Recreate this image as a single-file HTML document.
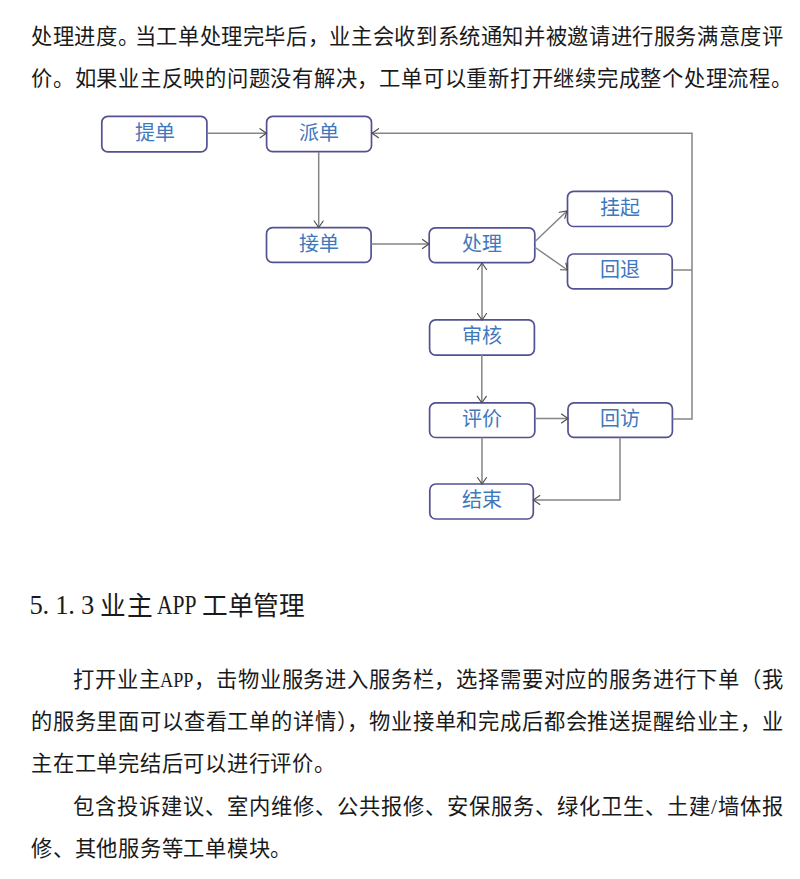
<!DOCTYPE html>
<html lang="zh-CN">
<head>
<meta charset="utf-8">
<style>
html,body{margin:0;padding:0;background:#fff;}
body{width:800px;height:879px;position:relative;overflow:hidden;font-family:"Liberation Serif",serif;color:#1a1a1a;}
.ln{position:absolute;left:31px;width:752px;font-size:21.3px;line-height:30px;height:30px;white-space:nowrap;text-align:justify;text-align-last:justify;}
.ln.last{text-align:left;text-align-last:left;letter-spacing:0.75px;}
.lat{font-family:"Liberation Serif",serif;}
.hd{position:absolute;left:30px;top:588px;height:34px;line-height:34px;white-space:nowrap;font-size:25.7px;}
.dg{display:inline-block;width:12.9px;}
.mono{font-family:"Liberation Mono",monospace;font-size:25px;letter-spacing:-2.5px;}
svg{position:absolute;left:0;top:0;}
.bt{position:absolute;font-size:20px;line-height:24px;color:#3f78bd;white-space:nowrap;text-align:center;width:106px;}
</style>
</head>
<body>
<div class="ln" style="top:21.6px">处理进度<span style="letter-spacing:-4.5px">。</span>当工单处理完毕后，业主会收到系统通知并被邀请进行服务满意度评</div>
<div class="ln" style="top:64px;width:761px">价。如果业主反映的问题没有解决，工单可以重新打开继续完成整个处理流程。</div>

<svg width="800" height="560" viewBox="0 0 800 560">
<g fill="#fff" stroke="#525292" stroke-width="1.7">
<rect x="101.8" y="116.3" width="105.1" height="35.6" rx="6"/>
<rect x="266.6" y="116.4" width="104.9" height="35.3" rx="6"/>
<rect x="266.5" y="227.7" width="104.6" height="34.7" rx="6"/>
<rect x="429.2" y="227.8" width="105.6" height="34.8" rx="6"/>
<rect x="567.5" y="191.4" width="104.7" height="35.1" rx="6"/>
<rect x="567.5" y="254" width="104.7" height="34.9" rx="6"/>
<rect x="429.6" y="319.9" width="104.8" height="35.2" rx="6"/>
<rect x="429.6" y="402.8" width="105.2" height="34.7" rx="6"/>
<rect x="568" y="402.9" width="104.4" height="34.5" rx="6"/>
<rect x="429.8" y="484" width="103.5" height="35" rx="6"/>
</g>
<g fill="none" stroke="#858585" stroke-width="1.5" stroke-linejoin="miter">
<path d="M207 133.2H266.5"/>
<path d="M372 133.2H692V419H672.4"/>
<path d="M672.2 270H692"/>
<path d="M318.7 152V227.5"/>
<path d="M371.1 244H429"/>
<path d="M534.5 242L567 211"/>
<path d="M534.5 247L567.5 270"/>
<path d="M482 263V320"/>
<path d="M481.8 355V402.8"/>
<path d="M534.8 418.5H568"/>
<path d="M482 437.5V484"/>
<path d="M620 437.4V500H533.3"/>
</g>
<g fill="none" stroke="#4d4d4d" stroke-width="1.15" stroke-linecap="round">
<path d="M260 128.7L266.5 133.2L260 137.7"/>
<path d="M378.5 128.7L372 133.2L378.5 137.7"/>
<path d="M314.2 221L318.7 227.5L323.2 221"/>
<path d="M422.5 239.5L429 244L422.5 248.5"/>
<path d="M559.3 212.3L567 211L564.8 218.3"/>
<path d="M560.5 269.8L567.5 270L565.9 263"/>
<path d="M477.5 269.5L482 263L486.5 269.5"/>
<path d="M477.5 313.5L482 320L486.5 313.5"/>
<path d="M477.3 396.3L481.8 402.8L486.3 396.3"/>
<path d="M561.5 414L568 418.5L561.5 423"/>
<path d="M477.5 477.5L482 484L486.5 477.5"/>
<path d="M539.8 495.5L533.3 500L539.8 504.5"/>
</g>
</svg>
<div class="bt" style="left:101.5px;top:120.5px">提单</div>
<div class="bt" style="left:266px;top:120.5px">派单</div>
<div class="bt" style="left:266px;top:232px">接单</div>
<div class="bt" style="left:429px;top:232px">处理</div>
<div class="bt" style="left:567px;top:195.5px">挂起</div>
<div class="bt" style="left:567px;top:258px">回退</div>
<div class="bt" style="left:429px;top:324px">审核</div>
<div class="bt" style="left:429px;top:407px">评价</div>
<div class="bt" style="left:567px;top:407px">回访</div>
<div class="bt" style="left:429px;top:488px">结束</div>

<div class="hd" style="left:29.5px;font-family:'Liberation Serif',serif;font-size:26.6px"><span class="dg">5</span><span class="dg">.</span><span class="dg">1</span><span class="dg">.</span><span class="dg">3</span></div>
<div class="hd" style="left:100px;top:589.5px;letter-spacing:0.5px">业主</div>
<div class="hd" style="left:157px;font-family:'Liberation Serif',serif;font-size:27px;transform:scaleX(0.8);transform-origin:0 0">APP</div>
<div class="hd" style="left:202px;top:589.5px;letter-spacing:-0.3px">工单管理</div>

<div class="ln" style="top:664.75px;padding-left:42px;width:710px">打开业主<span class="lat" style="display:inline-block;font-size:21.7px;transform:scaleX(0.84);transform-origin:0 0;width:33px">APP</span>，击物业服务进入服务栏，选择需要对应的服务进行下单（我</div>
<div class="ln" style="top:707px">的服务里面可以查看工单的详情），物业接单和完成后都会推送提醒给业主，业</div>
<div class="ln last" style="top:748.5px">主在工单完结后可以进行评价。</div>
<div class="ln" style="top:792px;padding-left:42px;width:710px">包含投诉建议、室内维修、公共报修、安保服务、绿化卫生、土建<span class="lat">/</span>墙体报</div>
<div class="ln last" style="top:833.5px">修、其他服务等工单模块。</div>
</body>
</html>
